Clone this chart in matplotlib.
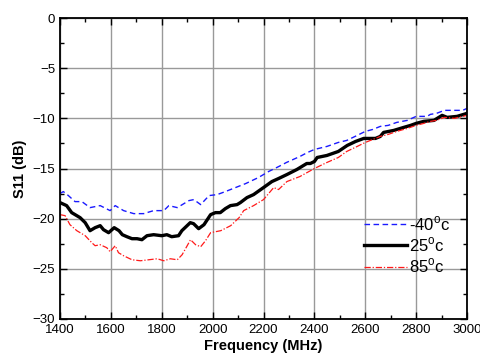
import matplotlib
matplotlib.use("Agg")
import matplotlib.pyplot as plt
from matplotlib.ticker import MultipleLocator

plt.rcParams['font.family'] = ['Liberation Sans', 'DejaVu Sans']
plt.rcParams['mathtext.fontset'] = 'custom'
plt.rcParams['mathtext.rm'] = 'Liberation Sans'

# S11 vs frequency at three temperatures
freq_m40 = [1400, 1413, 1433, 1459, 1486, 1518, 1558, 1597, 1617, 1650, 1690, 1729,
            1768, 1808, 1828, 1861, 1907, 1926, 1953, 1986, 2018, 2050, 2090, 2130,
            2180, 2220, 2260, 2290, 2343, 2373, 2400, 2449, 2494, 2527, 2560, 2600,
            2630, 2659, 2690, 2724, 2765, 2800, 2843, 2856, 2880, 2911, 2950, 2983, 3000]
s11_m40 = [-17.5, -17.3, -17.7, -18.3, -18.3, -18.9, -18.7, -19.2, -18.7, -19.2, -19.5, -19.5,
           -19.2, -19.2, -18.7, -18.9, -18.2, -18.1, -18.6, -17.7, -17.6, -17.3, -16.9, -16.5,
           -15.9, -15.3, -14.8, -14.4, -13.8, -13.4, -13.1, -12.8, -12.4, -12.2, -11.8, -11.3,
           -11.1, -10.8, -10.7, -10.4, -10.2, -9.8, -9.8, -9.6, -9.5, -9.2, -9.2, -9.2, -9.0]

freq_25 = [1400, 1426, 1446, 1479, 1499, 1518, 1538, 1558, 1571, 1591, 1613, 1632,
           1645, 1663, 1683, 1703, 1722, 1742, 1768, 1800, 1820, 1839, 1866, 1879,
           1912, 1925, 1945, 1966, 1992, 2011, 2030, 2050, 2070, 2096, 2109, 2135,
           2161, 2200, 2233, 2259, 2292, 2331, 2370, 2384, 2400, 2411, 2449, 2494,
           2529, 2562, 2594, 2620, 2640, 2659, 2672, 2712, 2751, 2778, 2800, 2830,
           2870, 2902, 2922, 2961, 3000]
s11_25 = [-18.4, -18.7, -19.4, -19.9, -20.4, -21.2, -20.9, -20.7, -21.1, -21.4, -20.9, -21.2,
          -21.6, -21.8, -22.0, -22.0, -22.1, -21.7, -21.6, -21.7, -21.6, -21.8, -21.7, -21.2,
          -20.4, -20.5, -21.0, -20.6, -19.6, -19.4, -19.4, -19.0, -18.7, -18.6, -18.4, -17.9,
          -17.6, -16.9, -16.3, -16.0, -15.6, -15.1, -14.5, -14.5, -14.3, -13.9, -13.7, -13.3,
          -12.7, -12.3, -12.0, -12.0, -12.0, -11.8, -11.4, -11.2, -10.9, -10.7, -10.5, -10.3,
          -10.2, -9.7, -9.9, -9.8, -9.5]

freq_85 = [1400, 1420, 1439, 1466, 1499, 1525, 1538, 1558, 1584, 1597, 1617, 1630,
           1650, 1683, 1716, 1749, 1782, 1808, 1834, 1861, 1880, 1900, 1913, 1933,
           1953, 1972, 1992, 2032, 2071, 2104, 2122, 2161, 2200, 2240, 2259, 2292,
           2343, 2400, 2449, 2494, 2527, 2560, 2600, 2630, 2659, 2690, 2724, 2765,
           2800, 2830, 2856, 2880, 2911, 2950, 2983, 3000]
s11_85 = [-19.6, -19.7, -20.6, -21.2, -21.7, -22.4, -22.7, -22.6, -22.9, -23.3, -22.7, -23.4,
          -23.7, -24.1, -24.2, -24.1, -24.0, -24.2, -24.0, -24.1, -23.6, -22.7, -22.1, -22.6,
          -22.8, -22.2, -21.4, -21.2, -20.7, -19.9, -19.2, -18.7, -18.1, -16.9, -17.1, -16.3,
          -15.8, -15.0, -14.4, -13.9, -13.3, -12.9, -12.4, -12.1, -11.8, -11.6, -11.3, -11.0,
          -10.7, -10.5, -10.3, -10.2, -9.9, -10.0, -9.8, -9.7]

labels = ['-40$^{\\mathrm{o}}$c', '25$^{\\mathrm{o}}$c', '85$^{\\mathrm{o}}$c']

fig = plt.figure(figsize=(4.8, 3.62), dpi=100)
ax = fig.add_axes([0.125, 0.119, 0.848, 0.831])

ax.plot(freq_m40, s11_m40, color='#1a1aff', lw=1.0, ls=(0, (4, 2.5)), label=labels[0])
ax.plot(freq_25, s11_25, color='black', lw=2.4, label=labels[1])
ax.plot(freq_85, s11_85, color='#ff1a1a', lw=0.9, ls=(0, (5, 1.5, 1, 1.5)), label=labels[2])

ax.set_xlim(1400, 3000)
ax.set_ylim(-30, 0)
ax.xaxis.set_major_locator(MultipleLocator(200))
ax.xaxis.set_minor_locator(MultipleLocator(100))
ax.yaxis.set_major_locator(MultipleLocator(5))
ax.yaxis.set_minor_locator(MultipleLocator(2.5))
ax.grid(True, which='major', color='#999999', lw=1.0)
ax.set_axisbelow(True)
ax.tick_params(which='both', direction='in', top=True, right=True, labelsize=9.5, width=1.0)
ax.tick_params(which='major', length=5)
ax.tick_params(which='minor', length=3)
for s in ax.spines.values():
    s.set_linewidth(1.3)

ax.set_xlabel('Frequency (MHz)', fontsize=10.5, fontweight='bold', labelpad=2)
ax.set_ylabel('S11 (dB)', fontsize=10.5, fontweight='bold', labelpad=4)

leg = ax.legend(loc='upper left', bbox_to_anchor=(0.73, 0.37), frameon=False,
                fontsize=12, handlelength=2.6, handletextpad=0.1, labelspacing=0.15,
                borderaxespad=0)

fig.savefig('out.png', dpi=100)
